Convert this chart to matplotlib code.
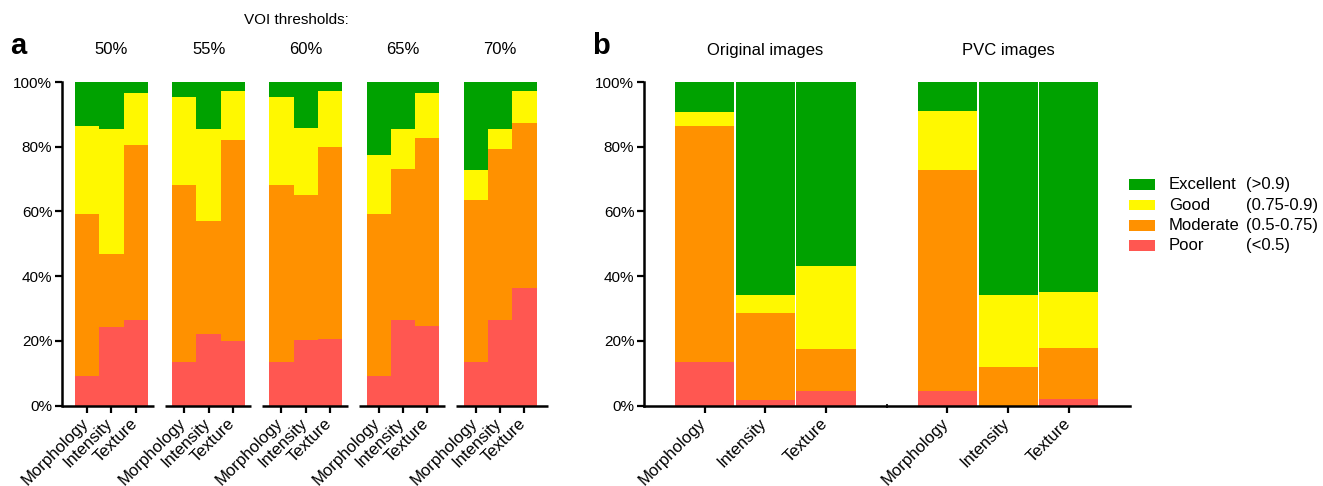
import matplotlib as mp
mp.use("Agg")
import matplotlib.pyplot as plt
import matplotlib.transforms as mtrans
from matplotlib.patches import Rectangle
import numpy as np

plt.rcParams['font.family'] = ['Liberation Sans', 'DejaVu Sans']
plt.rcParams['font.size'] = 11

#######
# DATA
#######

features = ["Morphology", "Intensity", "Texture"]
thresholds = ["50%", "55%", "60%", "65%", "70%"]
image_sets = ["Original images", "PVC images"]

classes = ["Excellent", "Good", "Moderate", "Poor"]
ranges = ["(>0.9)", "(0.75-0.9)", "(0.5-0.75)", "(<0.5)"]
colors = {"Excellent": "#00a200", "Good": "#fff800",
          "Moderate": "#ff9100", "Poor": "#ff5751"}

# panel a: percentage per class, bars ordered threshold by threshold
# (Morphology, Intensity, Texture) for 50, 55, 60, 65, 70 %
a_poor = [9.1, 24.4, 26.6,  13.6, 22.3, 20.1,  13.6, 20.4, 20.7,
          9.1, 26.5, 24.7,  13.6, 26.5, 36.4]
a_moderate = [50.0, 22.5, 53.9,  54.5, 34.8, 62.0,  54.5, 44.7, 59.3,
              50.0, 46.7, 58.0,  50.0, 52.8, 50.9]
a_good = [27.3, 38.6, 16.1,  27.3, 28.4, 15.1,  27.3, 20.7, 17.2,
          18.2, 12.3, 13.9,  9.1, 6.2, 9.9]
a_excellent = [13.6, 14.5, 3.4,  4.6, 14.5, 2.8,  4.6, 14.2, 2.8,
               22.7, 14.5, 3.4,  27.3, 14.5, 2.8]

# panel b: original images then PVC images
b_poor = [13.6, 1.9, 4.6,  4.5, 0.0, 2.1]
b_moderate = [72.7, 26.6, 13.0,  68.2, 12.0, 15.8]
b_good = [4.5, 5.8, 25.7,  18.2, 22.3, 17.1]
b_excellent = [9.2, 65.7, 56.7,  9.1, 65.7, 65.0]

########
# LAYOUT
########

W, H = 1323, 486
fig = plt.figure(figsize=(W / 100.0, H / 100.0), dpi=100)

def px_axes(x0, y0, x1, y1):
    return fig.add_axes([x0 / W, (H - y1) / H, (x1 - x0) / W, (y1 - y0) / H])

ax0 = px_axes(62, 82, 547.5, 405.7)
ax1 = px_axes(644, 82, 1129.5, 405.7)

def stack(ax, xpos, series, width):
    bottom = np.zeros(len(xpos))
    for name, vals in series:
        ax.bar(xpos, vals, width=width, bottom=bottom, color=colors[name],
               linewidth=0)
        bottom = bottom + np.array(vals)

def style_axis(ax):
    ax.set_ylim(0, 100)
    ax.set_yticks([0, 20, 40, 60, 80, 100])
    ax.set_yticklabels(["0%", "20%", "40%", "60%", "80%", "100%"])
    for s in ["top", "right"]:
        ax.spines[s].set_visible(False)
    ax.spines["left"].set_linewidth(1.8)
    ax.spines["bottom"].set_linewidth(1.8)
    ax.tick_params(axis="y", length=5, width=1.6, pad=2, labelsize=11)
    ax.tick_params(axis="x", length=5, width=1.6, pad=6, labelsize=12)

def rot_labels(ax, labels):
    ax.set_xticklabels(labels, rotation=45, ha="right", va="center",
                       rotation_mode="anchor")
    shift = mtrans.ScaledTranslation(-1 / 100.0, 0, fig.dpi_scale_trans)
    for t in ax.get_xticklabels():
        t.set_transform(t.get_transform() + shift)

###########
# PANEL A
###########

n_th = len(thresholds)
xa = np.array([4 * g + b for g in range(n_th) for b in range(len(features))])
stack(ax0, xa, [("Poor", a_poor), ("Moderate", a_moderate),
                ("Good", a_good), ("Excellent", a_excellent)], 1.0)
style_axis(ax0)
ax0.set_xlim(-1.035, 18.95)
ax0.spines["bottom"].set_visible(False)
ax0.set_xticks(xa)
rot_labels(ax0, features * n_th)
for g in range(n_th):
    left = -1.035 if g == 0 else 4 * g - 0.8
    right = 18.95 if g == n_th - 1 else 4 * g + 2.75
    ax0.plot([left, right], [0, 0], color="k", lw=1.8, clip_on=False,
             solid_capstyle="butt", zorder=3)

trans0 = mtrans.blended_transform_factory(ax0.transData, fig.transFigure)
for g, lab in enumerate(thresholds):
    ax0.text(4 * g + 1, 1 - 50.0 / H, lab, transform=trans0, ha="center",
             va="center", fontsize=12)
fig.text(296.0 / W, 1 - 20.0 / H, "VOI thresholds:", ha="center",
         va="center", fontsize=11)

###########
# PANEL B
###########

xb = np.array([4 * g + b for g in range(len(image_sets)) for b in range(len(features))])
stack(ax1, xb, [("Poor", b_poor), ("Moderate", b_moderate),
                ("Good", b_good), ("Excellent", b_excellent)], 0.975)
style_axis(ax1)
ax1.set_xlim(-1, 7)
ax1.set_xticks(xb)
rot_labels(ax1, features * len(image_sets))
ax1.plot([3], [0], marker="|", color="k", ms=2.5, mew=1.2, clip_on=False,
         zorder=4)

trans1 = mtrans.blended_transform_factory(ax1.transData, fig.transFigure)
for g, lab in enumerate(image_sets):
    ax1.text(4 * g + 1, 1 - 50.0 / H, lab, transform=trans1, ha="center",
             va="center", fontsize=12)

# legend, drawn by hand so the ranges line up in a second column
for i, (name, rng) in enumerate(zip(classes, ranges)):
    yc = 184.7 + i * 20.3
    fig.add_artist(Rectangle((1129.0 / W, 1 - (yc + 5.3) / H), 26.0 / W,
                             10.6 / H, transform=fig.transFigure,
                             color=colors[name], lw=0))
    fig.text(1169.0 / W, 1 - yc / H, name, ha="left", va="center", fontsize=12)
    fig.text(1246.0 / W, 1 - yc / H, rng, ha="left", va="center", fontsize=12)

fig.text(18.0 / W, 1 - 54.0 / H, "a", ha="center", va="baseline",
         fontsize=21, fontweight="bold")
fig.text(601.0 / W, 1 - 54.0 / H, "b", ha="center", va="baseline",
         fontsize=21, fontweight="bold")

fig.savefig("out.png", dpi=100)
